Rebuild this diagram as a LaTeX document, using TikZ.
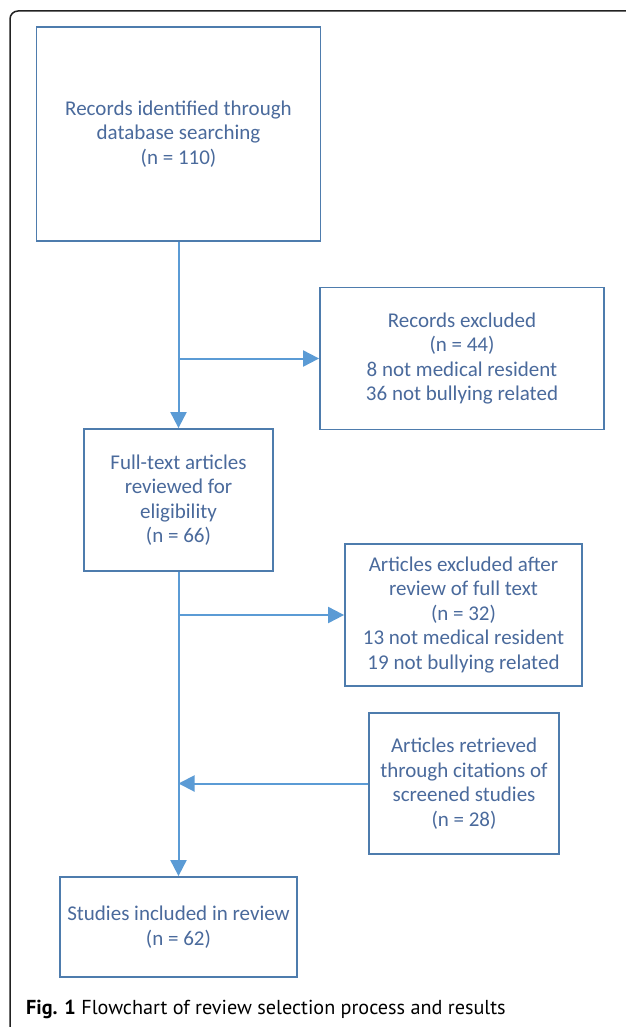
\documentclass[tikz,border=0pt]{standalone}
\usepackage{fontspec}
\setmainfont{Carlito}
\newfontfamily\capfont{PT Sans}
\definecolor{fcLine}{HTML}{5B9BD5}
\definecolor{fcBorder}{HTML}{4E7CAD}
\definecolor{fcText}{HTML}{4A6A9C}
\definecolor{fcFrame}{HTML}{222222}
\usetikzlibrary{arrows.meta}
\tikzset{
  fcbox/.style={draw=fcBorder, line width=1.8pt, fill=white, align=center, text=fcText,
    font=\fontsize{21}{24.5}\selectfont, inner sep=0pt},
  fcarrow/.style={draw=fcLine, line width=2pt, -{Triangle[length=16pt,width=16pt]}},
  fcline/.style={draw=fcLine, line width=2pt}
}

\begin{document}
\begin{tikzpicture}[x=1pt, y=-1pt]
  \useasboundingbox (0,0) rectangle (625,1027);
  % Figure frame (runs off the right and bottom edges)
  \draw[fcFrame, line width=1.5pt, rounded corners=8pt] (10,11) rectangle (650,1050);
  % Boxes
  \node[fcbox, minimum width=284pt, minimum height=214pt] (records) at (178.5,134)
    {Records identified through\\database searching\\(n = 110)};
  \node[fcbox, minimum width=284pt, minimum height=142pt] (excluded) at (462,358.5)
    {Records excluded\\(n = 44)\\8 not medical resident\\36 not bullying related};
  \node[fcbox, minimum width=189pt, minimum height=142pt] (fulltext) at (178.5,500)
    {Full-text articles\\reviewed for\\eligibility\\(n = 66)};
  \node[fcbox, minimum width=237pt, minimum height=142pt] (excludedft) at (463.5,615)
    {Articles excluded after\\review of full text\\(n = 32)\\13 not medical resident\\19 not bullying related};
  \node[fcbox, minimum width=190pt, minimum height=141pt] (retrieved) at (464,783.5)
    {Articles retrieved\\through citations of\\screened studies\\(n = 28)};
  \node[fcbox, minimum width=237pt, minimum height=100pt] (included) at (178.5,927)
    {Studies included in review\\(n = 62)};
  % Connectors
  \draw[fcarrow] (records) -- (fulltext);
  \draw[fcarrow] (records.south |- excluded.west) -- (excluded.west);
  \draw[fcarrow] (fulltext) -- (included);
  \draw[fcarrow] (fulltext.south |- excludedft.west) -- (excludedft.west);
  \draw[fcarrow] (retrieved.west) -- (fulltext.south |- retrieved.west);
  % Caption
  \node[anchor=base west, inner sep=0pt, font=\capfont\fontsize{20.2}{24}\selectfont, text=black] (caption) at (26,1014)
    {\textbf{Fig. 1} Flowchart of review selection process and results};
\end{tikzpicture}
\end{document}
